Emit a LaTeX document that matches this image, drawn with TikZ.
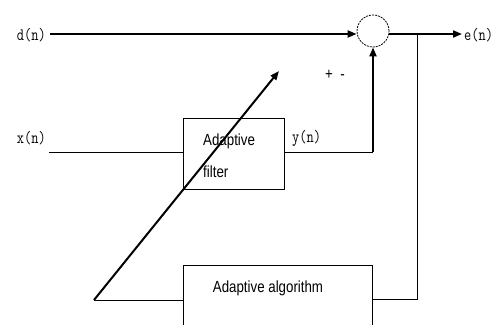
\documentclass[tikz,border=0pt]{standalone}
\usepackage{graphicx}
\usepackage{fontspec}
\setmainfont{Liberation Sans}
\usetikzlibrary{arrows.meta}
\newcommand{\sigtext}[1]{\scalebox{1}[1.25]{\ttfamily\fontsize{14}{14}\selectfont #1}}
\newcommand{\boxtext}[1]{\scalebox{0.95}[1.15]{\fontsize{14}{14}\selectfont #1}}
\tikzset{
  sig/.style={line width=2pt,-{Triangle[length=9pt,width=7pt]}},
  wire/.style={line width=1pt},
  blk/.style={draw,line width=1pt,inner sep=0pt},
  lab/.style={inner sep=0pt},
  btxt/.style={inner sep=0pt}
}
\begin{document}
\begin{tikzpicture}[x=1pt,y=-1pt]
\useasboundingbox (0,0) rectangle (494,324);
\clip (0,0) rectangle (494,324);
\fill[white] (0,0) rectangle (494,324);
% nodes
\node[circle,draw,line width=0.8pt,dash pattern=on 2pt off 1pt,minimum size=32pt,inner sep=0pt] (sum) at (373,31) {};
\node[blk,minimum width=101pt,minimum height=71pt] (filt) at (233.5,153.5) {};
\node[blk,minimum width=189pt,minimum height=76pt] (algo) at (277.5,303) {};
\node[lab,anchor=east] (dn) at (46,35) {\sigtext{d(n)}};
\node[lab,anchor=east] (xn) at (46,138) {\sigtext{x(n)}};
\node[lab,anchor=west] (yn) at (292,138) {\sigtext{y(n)}};
\node[lab,anchor=west] (en) at (464,35) {\sigtext{e(n)}};
\node[btxt,anchor=west] (t1) at (203,141) {\boxtext{Adaptive}};
\node[btxt,anchor=west] (t2) at (203,172) {\boxtext{filter}};
\node[btxt] (t3) at (268,288) {\boxtext{Adaptive algorithm}};
\node[btxt] (pm) at (335,75) {\boxtext{+\ \ -}};
% coordinates
\coordinate (ds) at (50,34);
\coordinate (xs) at (49,152);
\coordinate (ys) at (373,152);
\coordinate (eo) at (462,34);
\coordinate (tap) at (417,34);
\coordinate (fb) at (417,299);
\coordinate (as) at (94,300);
\coordinate (ae) at (279,71);
% connectors
\draw[sig] (ds) -- (ds -| sum.west);
\draw[sig] (sum.east |- eo) -- (eo);
\draw[wire] (xs) -- (xs -| filt.west);
\draw[wire] (filt.east |- ys) -- (ys);
\draw[sig] (ys) -- (sum.south);
\draw[wire] (tap) -- (fb) -- (fb -| algo.east);
\draw[wire] (as) -- (as -| algo.west);
\draw[sig] (as) -- (ae);
\end{tikzpicture}
\end{document}
